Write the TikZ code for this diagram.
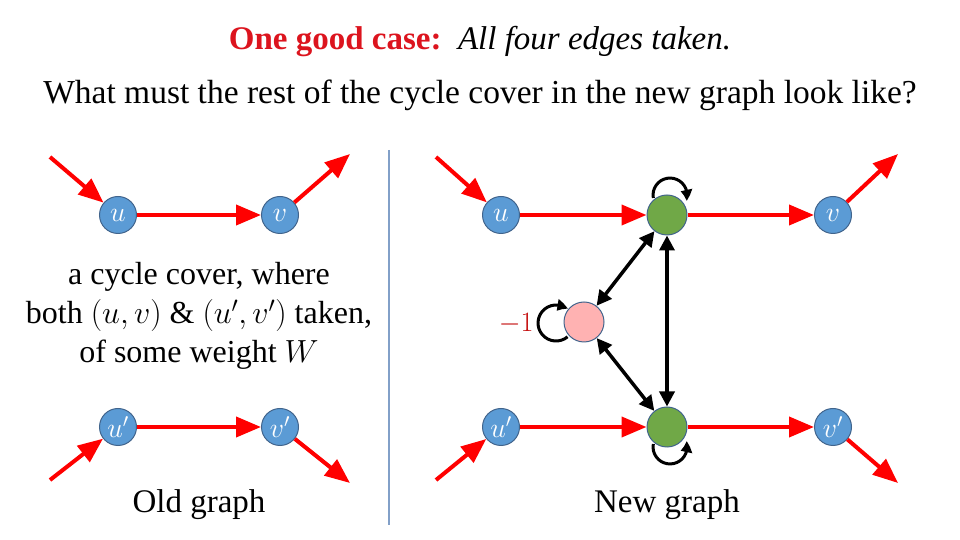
\RequirePackage{fix-cm}
\documentclass[tikz,border=0pt]{standalone}
\usepackage{fontspec}
\setmainfont{Liberation Serif}
\usetikzlibrary{arrows.meta, bending}

\definecolor{vblue}{RGB}{91,155,213}
\definecolor{vgreen}{RGB}{112,168,71}
\definecolor{vpink}{RGB}{255,178,178}
\definecolor{vrim}{RGB}{65,100,140}
\definecolor{sepline}{RGB}{130,160,200}
\definecolor{titlered}{RGB}{220,20,30}
\definecolor{minusred}{RGB}{195,10,10}

\begin{document}
\begin{tikzpicture}[x=1pt, y=1pt,
    vtx/.style={circle, draw=vrim, line width=1pt, fill=vblue, minimum size=37pt,
        inner sep=0pt, text=white, font=\fontsize{28}{28}\selectfont},
    midvtx/.style={vtx, fill=vgreen, minimum size=40pt},
    auxvtx/.style={vtx, fill=vpink, minimum size=40pt},
    redarr/.style={-{Triangle[length=25pt,width=20pt]}, red, line width=4pt},
    twoarr/.style={{Triangle[length=15pt,width=15pt]}-{Triangle[length=15pt,width=15pt]}, line width=3.5pt},
    looparr/.style={-{Triangle[length=11pt,width=11pt,bend]}, line width=3pt}]
    \useasboundingbox (0,0) rectangle (960,540);

    % 标题
    \node (title) at (480,498) {\fontsize{33}{35}\selectfont
        \textcolor{titlered}{\textbf{One good case:}}\ \ \textit{All four edges taken.}};
    \node (quest) at (480,445) {\fontsize{33.5}{35}\selectfont
        What must the rest of the cycle cover in the new graph look like?};

    % 分隔线
    \draw[sepline, line width=1.5pt] (389,390) -- (389,15);

    % 旧图
    \node[vtx] (ul) at (118,325) {$u$};
    \node[vtx] (vl) at (280,325) {$v$};
    \node[vtx] (upl) at (118,113) {$u'$};
    \node[vtx] (vpl) at (280,113) {$v'$};
    \coordinate (ulin) at (50,383);
    \coordinate (vlout) at (350,386);
    \coordinate (uplin) at (50,60);
    \coordinate (vplout) at (350,57);
    \draw[redarr] (ulin) -- (ul);
    \draw[redarr] (ul) -- (vl);
    \draw[redarr] (vl) -- (vlout);
    \draw[redarr] (uplin) -- (upl);
    \draw[redarr] (upl) -- (vpl);
    \draw[redarr] (vpl) -- (vplout);
    \node[align=center, font=\fontsize{32}{39}\selectfont] (cover) at (199,224)
        {a cycle cover, where\\ both $(u,v)$ \& $(u',v')$ taken,\\ of some weight $W$};
    \node[font=\fontsize{33}{34}\selectfont] (oldcap) at (199,35) {Old graph};

    % 新图
    \node[vtx] (ur) at (501,325) {$u$};
    \node[midvtx] (gtop) at (667,325) {};
    \node[vtx] (vr) at (833,325) {$v$};
    \node[vtx] (upr) at (501,113) {$u'$};
    \node[midvtx] (gbot) at (667,113) {};
    \node[vtx] (vpr) at (833,113) {$v'$};
    \node[auxvtx] (pk) at (584,218) {};
    \coordinate (urin) at (436,383);
    \coordinate (vrout) at (898,386);
    \coordinate (uprin) at (436,60);
    \coordinate (vprout) at (898,57);
    \draw[redarr] (urin) -- (ur);
    \draw[redarr] (ur) -- (gtop);
    \draw[redarr] (gtop) -- (vr);
    \draw[redarr] (vr) -- (vrout);
    \draw[redarr] (uprin) -- (upr);
    \draw[redarr] (upr) -- (gbot);
    \draw[redarr] (gbot) -- (vpr);
    \draw[redarr] (vpr) -- (vprout);

    % 黑色双向边
    \draw[twoarr] (gtop) -- (pk);
    \draw[twoarr] (pk) -- (gbot);
    \draw[twoarr] (gtop) -- (gbot);

    % 自环
    \draw[looparr] ([shift={(-13.7,17)}]gtop.center) arc[start angle=190, end angle=-20, radius=17];
    \draw[looparr] ([shift={(-13.7,-17)}]gbot.center) arc[start angle=170, end angle=380, radius=17];
    \draw[looparr] ([shift={(-16.4,-14.8)}]pk.center) arc[start angle=-50, end angle=-310, radius=18];
    \node[minusred, anchor=east, font=\fontsize{28}{28}\selectfont] (wlabel) at (537,216) {$-1$};
    \node[font=\fontsize{33}{34}\selectfont] (newcap) at (667,35) {New graph};
\end{tikzpicture}
\end{document}
